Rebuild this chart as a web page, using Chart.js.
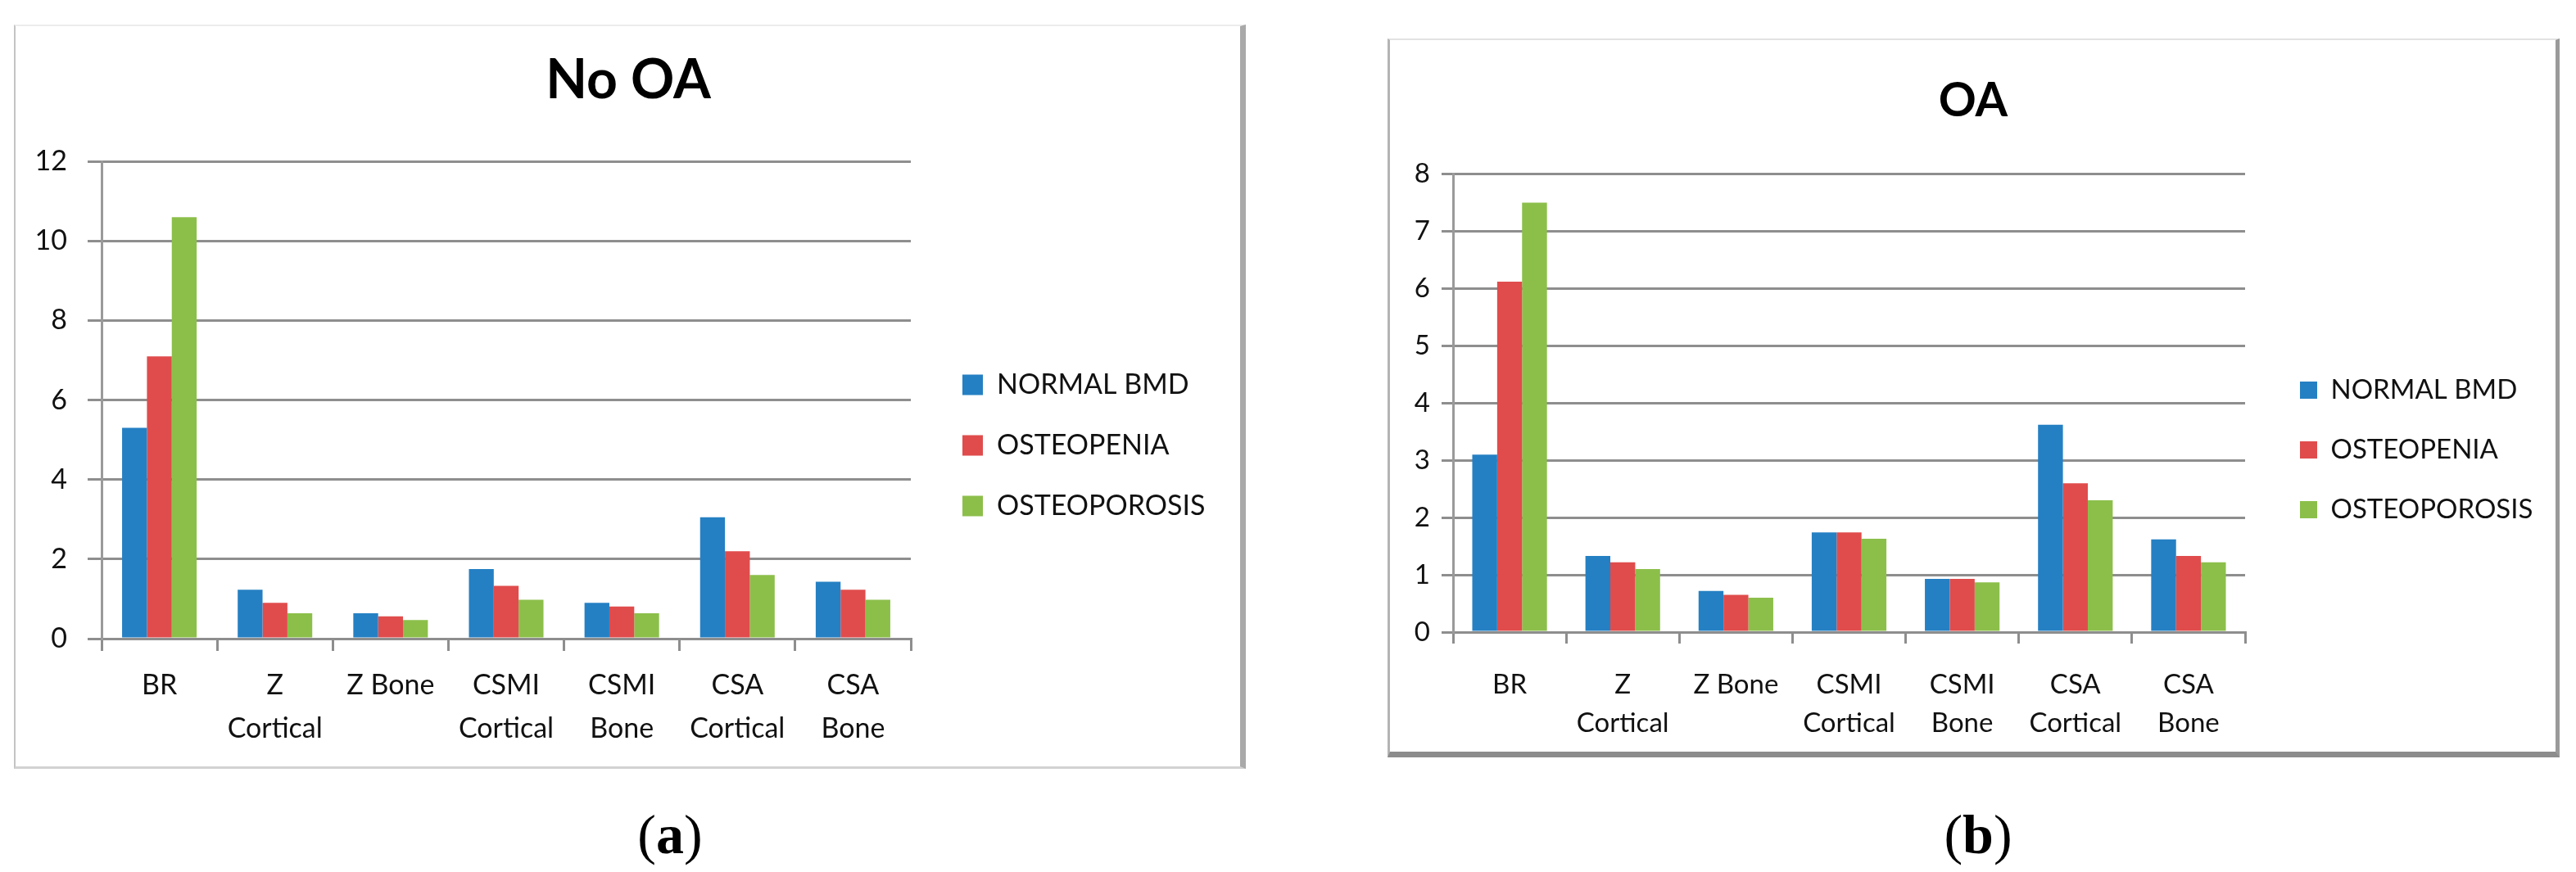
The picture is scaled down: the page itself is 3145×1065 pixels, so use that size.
<!DOCTYPE html>
<html>
<head>
<meta charset="utf-8">
<script src="https://cdn.jsdelivr.net/npm/chart.js@4"></script>
<style>
  body { margin: 0; background: #fff; width: 3145px; height: 1065px; position: relative; overflow: hidden; }
  .frame { position: absolute; box-sizing: border-box; }
  #frameA { left: 17px; top: 30px; width: 1504px; height: 909px;
    border-left: 2px solid #c4c4c4; border-top: 2px solid #ececec;
    border-right: 7px solid #a9a9a9; border-bottom: 3px solid #d2d2d2; }
  #frameB { left: 1694px; top: 47px; width: 1431px; height: 878px;
    border-left: 3px solid #b4b4b4; border-top: 2px solid #e2e2e2;
    border-right: 5px solid #9a9a9a; border-bottom: 7px solid #8c8c8c; }
  canvas { position: absolute; }
  #chartA { left: 17px; top: 30px; }
  #chartB { left: 1695px; top: 48px; }
  .cap { position: absolute; width: 240px; text-align: center;
    font-family: "Liberation Serif", "DejaVu Serif", serif; font-size: 68px; line-height: 68px; color: #000; }
</style>
</head>
<body>
<div class="frame" id="frameA"></div>
<div class="frame" id="frameB"></div>
<canvas id="chartA" width="1500" height="907"></canvas>
<canvas id="chartB" width="1428" height="873"></canvas>
<div class="cap" style="left:698px; top:985px;">(<b>a</b>)</div>
<div class="cap" style="left:2295px; top:985px;">(<b>b</b>)</div>
<script>
// categories and series
const categories = [['BR'], ['Z', 'Cortical'], ['Z Bone'], ['CSMI', 'Cortical'], ['CSMI', 'Bone'], ['CSA', 'Cortical'], ['CSA', 'Bone']];
const seriesNames = ['NORMAL BMD', 'OSTEOPENIA', 'OSTEOPOROSIS'];
const seriesColors = ['#2580c3', '#e04c4c', '#8cbf4a'];

const noOaNormal = [5.3, 1.23, 0.64, 1.75, 0.9, 3.05, 1.43];
const noOaOsteopenia = [7.1, 0.9, 0.56, 1.33, 0.81, 2.2, 1.23];
const noOaOsteoporosis = [10.6, 0.64, 0.47, 0.98, 0.64, 1.6, 0.98];

const oaNormal = [3.1, 1.33, 0.72, 1.74, 0.93, 3.62, 1.62];
const oaOsteopenia = [6.12, 1.22, 0.65, 1.74, 0.93, 2.6, 1.33];
const oaOsteoporosis = [7.5, 1.1, 0.6, 1.63, 0.87, 2.3, 1.22];

const noOaTicks = [0, 2, 4, 6, 8, 10, 12];
const oaTicks = [0, 1, 2, 3, 4, 5, 6, 7, 8];

const gridGray = '#8e8e8e';
const FONT = 'Lato, "Open Sans", "DejaVu Sans", sans-serif';
const LEGEND_PAD = 40;

// moves legend / title to the spot they sit in the original
const placeBoxes = {
  id: 'placeBoxes',
  afterLayout(chart, args, opts) {
    const lg = chart.legend, tb = chart.titleBlock;
    if (lg && opts.legendX != null) {
      const pad = lg.options.labels.padding;
      const dx = opts.legendX - pad - lg.left;
      lg.left += dx; lg.right += dx;
      const dy = opts.legendY - pad - lg.top;
      lg.top += dy; lg.bottom += dy;
    }
    if (tb && opts.titleX != null) {
      const dx = opts.titleX - (tb.left + tb.right) / 2;
      tb.left += dx; tb.right += dx;
    }
  }
};

// legend width as chart.js works it out (it adds 10px), so the plot's right edge lands where wanted
function legendWidth(size, box) {
  const ctx = document.createElement('canvas').getContext('2d');
  ctx.font = size + 'px ' + FONT;
  const w = Math.max(...seriesNames.map(t => ctx.measureText(t).width));
  return LEGEND_PAD + box + size / 2 + w + 10;
}

function makeChart(id, title, values, ticks, s) {
  const canvas = document.getElementById(id);
  const padR = canvas.width - s.plotRight - legendWidth(s.font, s.box);
  return new Chart(canvas, {
    type: 'bar',
    data: {
      labels: categories,
      datasets: values.map((v, i) => ({
        label: seriesNames[i],
        data: v,
        backgroundColor: seriesColors[i],
        borderWidth: 0,
        categoryPercentage: s.catPct,
        barPercentage: 1.0
      }))
    },
    options: {
      responsive: false,
      animation: false,
      devicePixelRatio: 1,
      layout: { padding: { left: 0, right: padR, top: 0, bottom: 0 } },
      plugins: {
        title: {
          display: true,
          text: title,
          color: '#000',
          font: { family: FONT, size: s.titleSize, weight: 'bold', lineHeight: 1.2 },
          padding: { top: s.titleTop, bottom: s.titleBottom }
        },
        legend: {
          position: 'right',
          align: 'start',
          labels: {
            color: '#111',
            font: { family: FONT, size: s.font },
            boxWidth: s.box,
            boxHeight: s.box,
            padding: LEGEND_PAD
          }
        },
        tooltip: { enabled: false },
        placeBoxes: { legendX: s.legendX, legendY: s.legendY, titleX: s.titleX }
      },
      scales: {
        x: {
          grid: { offset: true, drawOnChartArea: false, drawTicks: true, tickLength: s.xTick, color: gridGray, lineWidth: 3 },
          border: { display: true, color: gridGray, width: 3 },
          ticks: { color: '#111', padding: s.xPad, maxRotation: 0, autoSkip: false,
            font: { family: FONT, size: s.font, lineHeight: s.xLine } },
          afterFit: sc => { sc.height = s.xHeight; }
        },
        y: {
          min: ticks[0],
          max: ticks[ticks.length - 1],
          grid: { color: gridGray, lineWidth: 3, tickLength: s.yTick },
          border: { display: true, color: '#9a9a9a', width: 3 },
          ticks: { stepSize: ticks[1] - ticks[0], color: '#111', padding: s.yPad,
            font: { family: FONT, size: s.font } },
          afterFit: sc => { sc.width = s.yWidth; }
        }
      }
    },
    plugins: [placeBoxes]
  });
}

makeChart('chartA', 'No OA', [noOaNormal, noOaOsteopenia, noOaOsteoporosis], noOaTicks, {
  catPct: 0.645, plotRight: 1095, titleSize: 66, titleTop: 29, titleBottom: 59, font: 34, box: 25,
  legendX: 1158, legendY: 423, titleX: 750,
  xTick: 15, xPad: 16, xLine: 1.55, xHeight: 157,
  yTick: 17, yPad: 25, yWidth: 107
});

makeChart('chartB', 'OA', [oaNormal, oaOsteopenia, oaOsteoporosis], oaTicks, {
  catPct: 0.66, plotRight: 1046, titleSize: 57, titleTop: 41, titleBottom: 55, font: 33, box: 21,
  legendX: 1113, legendY: 412, titleX: 714,
  xTick: 14, xPad: 27, xLine: 1.42, xHeight: 149,
  yTick: 14, yPad: 14, yWidth: 79
});
</script>
</body>
</html>
